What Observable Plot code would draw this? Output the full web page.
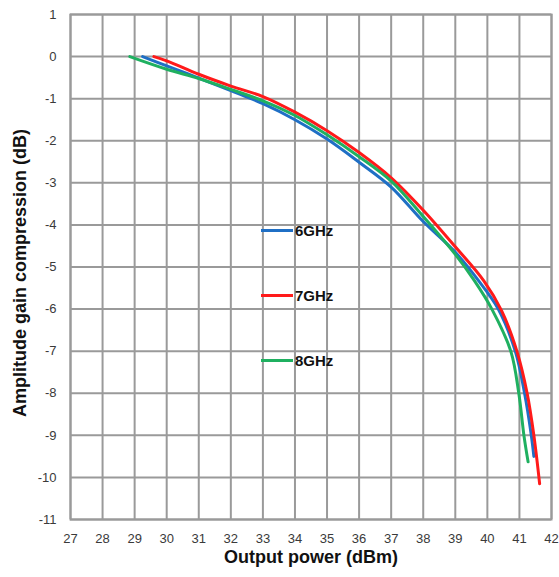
<!DOCTYPE html>
<html>
<head>
<meta charset="utf-8">
<script src="https://cdn.jsdelivr.net/npm/d3@7"></script>
<script src="https://cdn.jsdelivr.net/npm/@observablehq/plot@0.6"></script>
<style>
  html, body { margin: 0; padding: 0; background: #fff; }
  #wrap { position: relative; width: 559px; height: 577px; font-family: "Liberation Sans", Arial, sans-serif; }
  #legend { position: absolute; left: 261px; top: 222px; }
  .item { position: absolute; left: 0; display: flex; align-items: center; white-space: nowrap; }
  .sw { width: 32px; height: 3px; margin-right: 2px; }
  .lab { font-weight: bold; font-size: 15px; color: #111; }
</style>
</head>
<body>
<div id="wrap"></div>
<script>
// Data
const series = ["6GHz", "7GHz", "8GHz"];
const colors = ["#1f6fc5", "#ff1a1a", "#1fb060"];

const power6 = [29.25, 30, 31, 32, 33, 34, 35, 36, 37, 38, 39, 39.73, 40.34, 40.87, 41.16, 41.37, 41.45];
const gain6  = [0, -0.22, -0.51, -0.81, -1.12, -1.5, -1.96, -2.51, -3.1, -3.92, -4.65, -5.33, -6, -7, -8, -9, -9.5];

const power7 = [29.6, 30, 31, 32, 33, 34, 35, 36, 37, 38, 39, 39.89, 40.45, 40.92, 41.24, 41.45, 41.63];
const gain7  = [0, -0.1, -0.42, -0.7, -0.95, -1.32, -1.76, -2.28, -2.88, -3.65, -4.52, -5.33, -6.05, -7, -8, -9, -10.15];

const power8 = [28.85, 30, 31, 32, 33, 34, 35, 36, 37, 38, 39, 39.6, 40.14, 40.73, 40.98, 41.14, 41.27];
const gain8  = [0, -0.3, -0.52, -0.78, -1.05, -1.4, -1.86, -2.38, -2.96, -3.8, -4.7, -5.33, -6, -7, -8, -9, -9.63];

const xTicks = d3.range(27, 43);
const yTicks = d3.range(-11, 2);

const rows = [];
[[power6, gain6], [power7, gain7], [power8, gain8]].forEach(([p, g], i) => {
  p.forEach((v, j) => rows.push({series: series[i], power: v, gain: g[j]}));
});

const fmt = d => String(d);

const chart = Plot.plot({
  width: 559,
  height: 577,
  marginLeft: 70,
  marginRight: 8,
  marginTop: 14,
  marginBottom: 58,
  style: {fontFamily: "'Liberation Sans', Arial, sans-serif", fontSize: "12px", background: "#fff"},
  x: {domain: [27, 42], label: null},
  y: {domain: [-11, 1], label: null},
  color: {domain: series, range: colors},
  marks: [
    Plot.gridX(xTicks, {stroke: "#9a9a9a", strokeOpacity: 1, strokeWidth: 2}),
    Plot.gridY(yTicks, {stroke: "#9a9a9a", strokeOpacity: 1, strokeWidth: 2}),
    Plot.frame({stroke: "#9a9a9a", strokeWidth: 2}),
    Plot.axisX({ticks: xTicks, tickFormat: fmt, tickSize: 0, tickPadding: 14, label: null, fill: "#3a3a3a", fontSize: 13}),
    Plot.axisY({ticks: yTicks, tickFormat: fmt, tickSize: 0, tickPadding: 14, label: null, fill: "#3a3a3a", fontSize: 13}),
    Plot.line(rows, {x: "power", y: "gain", z: "series", stroke: "series", strokeWidth: 3, curve: "catmull-rom"}),
    Plot.text(["Output power (dBm)"], {frameAnchor: "bottom", dy: 43, fontWeight: "bold", fontSize: 18, fill: "#111", letterSpacing: "0.3px"}),
    Plot.text(["Amplitude gain compression (dB)"], {frameAnchor: "left", textAnchor: "middle", dx: -50, dy: 6, rotate: -90, fontWeight: "bold", fontSize: 18, fill: "#111", letterSpacing: "0.4px"})
  ]
});

const wrap = document.getElementById("wrap");
wrap.appendChild(chart);

const legend = document.createElement("div");
legend.id = "legend";
series.forEach((s, i) => {
  const item = document.createElement("div");
  item.className = "item";
  item.style.top = (i * 65) + "px";
  item.innerHTML = `<span class="sw" style="background:${colors[i]}"></span><span class="lab">${s}</span>`;
  legend.appendChild(item);
});
wrap.appendChild(legend);
</script>
</body>
</html>
